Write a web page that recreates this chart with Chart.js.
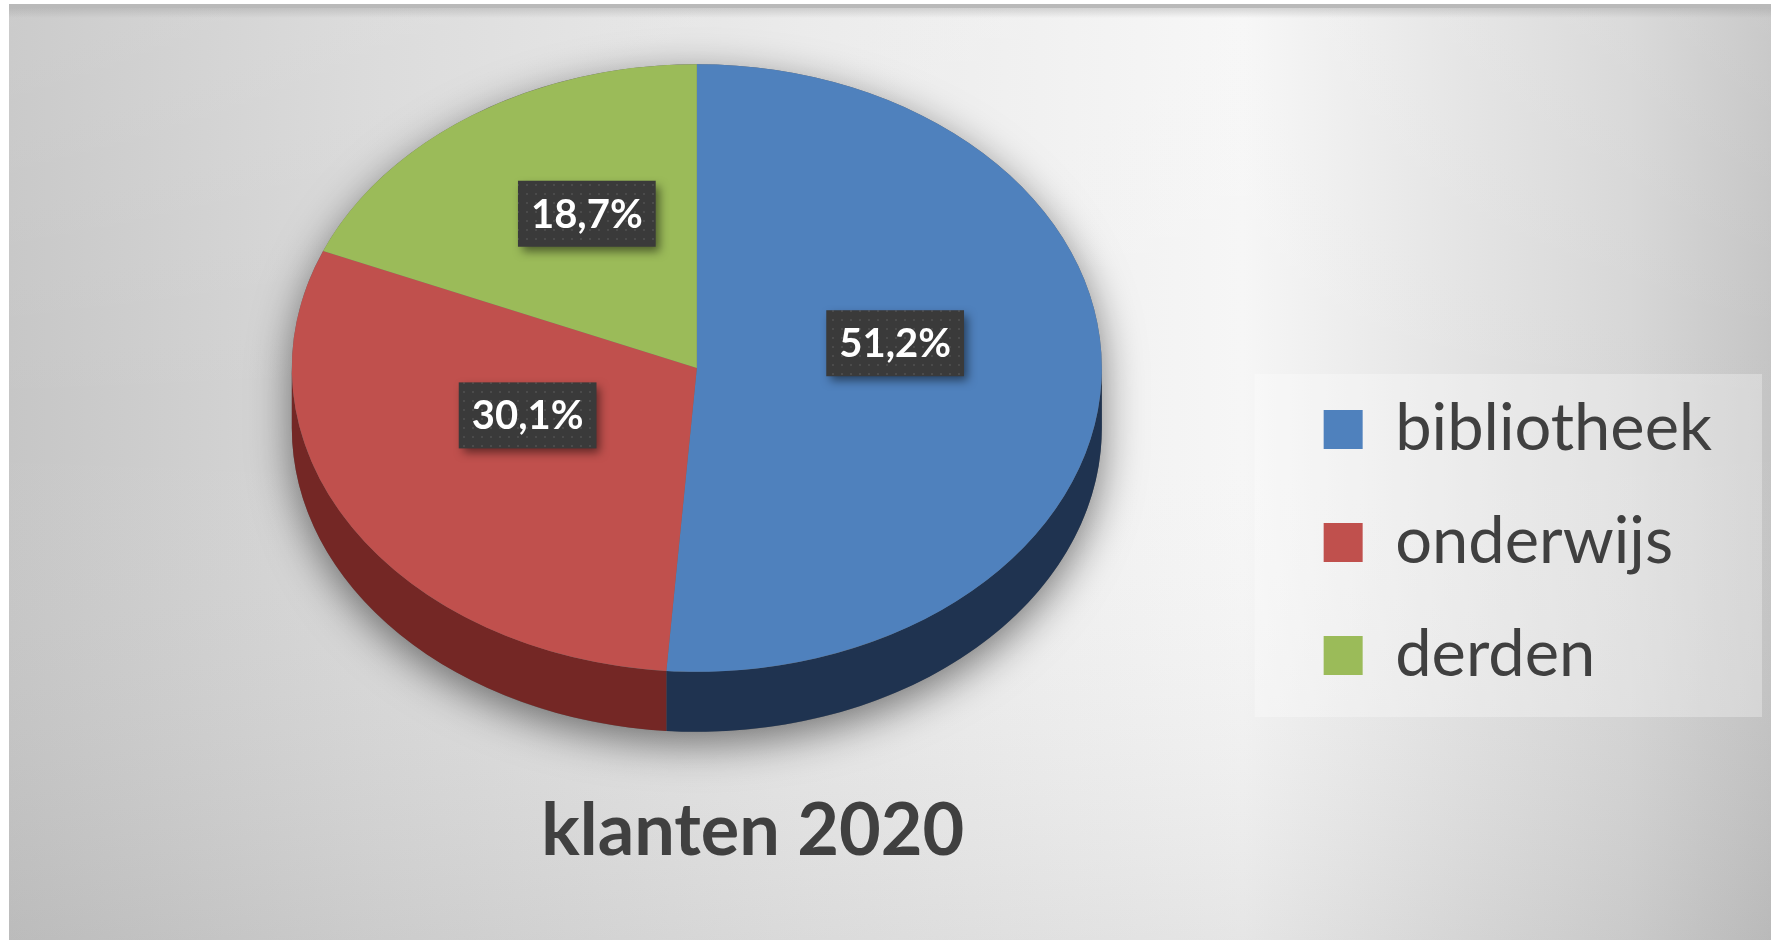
<!DOCTYPE html>
<html lang="nl">
<head>
<meta charset="utf-8">
<title>klanten 2020</title>
<script src="https://cdn.jsdelivr.net/npm/chart.js@4/dist/chart.umd.min.js"></script>
<style>
  html, body { margin: 0; padding: 0; background: #ffffff; }
  #c { display: block; }
</style>
</head>
<body>
<canvas id="c" width="1771" height="940"></canvas>
<script>
// Customer groups and their share (percent) for 2020
const categories = ['bibliotheek', 'onderwijs', 'derden'];
const shares = [51.2, 30.1, 18.7];
const chartTitle = 'klanten 2020';

// Slice colours: top faces and the darker side walls
const topColors = ['#4f81bd', '#c0504d', '#9bbb59'];
const sideColors = ['#1f3350', '#742725', '#5a6e32'];

const FONT = 'Lato, Carlito, "Open Sans", sans-serif';
const TEXT_COLOR = '#404040';

function formatPercent(v) {
  return v.toFixed(1).replace('.', ',') + '%';
}

// Soft grey backdrop with a thin top rule, plus the pale panel behind the legend
const backdrop = {
  id: 'backdrop',
  afterLayout(chart, args, opts) {
    // nudge the title a little to the right of the pie's centre line
    const t = chart.titleBlock;
    if (t) { t.left += opts.titleShift; t.right += opts.titleShift; }
  },
  beforeDraw(chart) {
    const {ctx, width, height} = chart;
    ctx.save();
    ctx.fillStyle = '#ffffff';
    ctx.fillRect(0, 0, width, height);

    const x0 = 9, y0 = 4;
    const g = ctx.createLinearGradient(x0, 0, width, 0);
    g.addColorStop(0.00, '#c6c6c6');
    g.addColorStop(0.20, '#d8d8d8');
    g.addColorStop(0.45, '#e9e9e9');
    g.addColorStop(0.70, '#f6f6f6');
    g.addColorStop(0.82, '#e4e4e4');
    g.addColorStop(0.92, '#d6d6d6');
    g.addColorStop(1.00, '#c4c4c4');
    ctx.fillStyle = g;
    ctx.fillRect(x0, y0, width - x0, height - y0);

    const v = ctx.createLinearGradient(0, y0, 0, height);
    v.addColorStop(0, 'rgba(255,255,255,0.10)');
    v.addColorStop(0.45, 'rgba(255,255,255,0)');
    v.addColorStop(1, 'rgba(110,110,110,0.12)');
    ctx.fillStyle = v;
    ctx.fillRect(x0, y0, width - x0, height - y0);

    ctx.fillStyle = '#b9b9b9';
    ctx.fillRect(x0, y0, width - x0, 4);
    const s = ctx.createLinearGradient(0, y0 + 4, 0, y0 + 14);
    s.addColorStop(0, 'rgba(150,150,150,0.35)');
    s.addColorStop(1, 'rgba(150,150,150,0)');
    ctx.fillStyle = s;
    ctx.fillRect(x0, y0 + 4, width - x0, 10);

    // panel behind the legend entries
    const lg = chart.legend;
    if (lg && lg.options.display) {
      const lab = lg.options.labels;
      const pad = lab.padding;
      const fs = lab.font.size;
      const colH = lg.columnSizes && lg.columnSizes.length ? lg.columnSizes[0].height : 0;
      ctx.font = `${fs}px ${FONT}`;
      let tw = 0;
      categories.forEach(c => { tw = Math.max(tw, ctx.measureText(c).width); });
      const left = lg.left + pad - 69;
      const right = lg.left + pad + lab.boxWidth + fs / 2 + tw + 50;
      const top = lg.bottom - colH - 23;
      const bottom = lg.bottom - 19;
      ctx.fillStyle = 'rgba(255,255,255,0.30)';
      ctx.fillRect(left, top, right - left, bottom - top);
    }
    ctx.restore();
  }
};

// Tilted pie: drop shadow, extruded side walls, squashed top faces and value badges
const pie3d = {
  id: 'pie3d',
  beforeDatasetsDraw(chart, args, opts) {
    const meta = chart.getDatasetMeta(0);
    if (!meta.data.length) return;
    const ctx = chart.ctx;
    const {x: cx, y: cy, outerRadius: R} = meta.data[0];
    const ry = R * opts.tilt;
    const d = opts.depth;

    // silhouette casting the soft shadow
    ctx.save();
    ctx.shadowColor = 'rgba(0,0,0,0.5)';
    ctx.shadowBlur = 42;
    ctx.shadowOffsetY = 12;
    ctx.beginPath();
    ctx.ellipse(cx, cy, R, ry, 0, 0, Math.PI, true);
    ctx.lineTo(cx - R, cy + d);
    ctx.ellipse(cx, cy + d, R, ry, 0, Math.PI, 0, true);
    ctx.closePath();
    ctx.fillStyle = '#6a6a6a';
    ctx.fill();
    ctx.restore();

    // visible (front) part of each slice's outer wall
    meta.data.forEach((arc, i) => {
      const s = arc.startAngle, e = arc.endAngle;
      [0, 2 * Math.PI].forEach(k => {
        const a = Math.max(s, k), b = Math.min(e, k + Math.PI);
        if (b <= a) return;
        ctx.beginPath();
        ctx.ellipse(cx, cy, R, ry, 0, a, b, false);
        ctx.lineTo(cx + R * Math.cos(b), cy + ry * Math.sin(b) + d);
        ctx.ellipse(cx, cy + d, R, ry, 0, b, a, true);
        ctx.closePath();
        ctx.fillStyle = sideColors[i];
        ctx.fill();
      });
    });

    // the library draws the top faces through this tilt
    ctx.save();
    ctx.translate(cx, cy);
    ctx.scale(1, opts.tilt);
    ctx.translate(-cx, -cy);
  },
  afterDatasetsDraw(chart, args, opts) {
    const meta = chart.getDatasetMeta(0);
    if (!meta.data.length) return;
    const ctx = chart.ctx;
    ctx.restore();

    const total = shares.reduce((a, b) => a + b, 0);
    const dots = document.createElement('canvas');
    dots.width = 9; dots.height = 9;
    const dctx = dots.getContext('2d');
    dctx.fillStyle = 'rgba(255,255,255,0.09)';
    dctx.fillRect(4, 4, 2, 2);
    const pattern = ctx.createPattern(dots, 'repeat');

    meta.data.forEach((arc, i) => {
      const mid = (arc.startAngle + arc.endAngle) / 2;
      const r = arc.outerRadius * opts.labelRadius;
      const x = arc.x + r * Math.cos(mid);
      const y = arc.y + opts.tilt * r * Math.sin(mid) + opts.labelLift * arc.outerRadius;
      const text = formatPercent(shares[i] / total * 100);

      ctx.save();
      ctx.font = `bold ${opts.labelSize}px ${FONT}`;
      const w = ctx.measureText(text).width + 26;
      const h = 66;
      const bx = x - w / 2, by = y - h / 2;
      ctx.shadowColor = 'rgba(0,0,0,0.5)';
      ctx.shadowBlur = 9;
      ctx.shadowOffsetX = 4;
      ctx.shadowOffsetY = 5;
      ctx.fillStyle = '#3a3a3a';
      ctx.fillRect(bx, by, w, h);
      ctx.shadowColor = 'transparent';
      ctx.fillStyle = pattern;
      ctx.fillRect(bx, by, w, h);
      ctx.fillStyle = '#ffffff';
      ctx.textAlign = 'center';
      ctx.textBaseline = 'middle';
      ctx.fillText(text, x, y + 1);
      ctx.restore();
    });
  }
};

function build() {
  new Chart(document.getElementById('c'), {
    type: 'pie',
    data: {
      labels: categories,
      datasets: [{
        data: shares,
        backgroundColor: topColors,
        borderWidth: 0,
        radius: 405,
        clip: false
      }]
    },
    options: {
      responsive: false,
      animation: false,
      events: [],
      layout: { padding: { left: 118, right: 49, top: 0, bottom: 0 } },
      plugins: {
        legend: {
          position: 'right',
          align: 'end',
          fullSize: false,
          labels: {
            boxWidth: 39,
            boxHeight: 39,
            padding: 48,
            color: TEXT_COLOR,
            font: { family: FONT, size: 65 }
          }
        },
        title: {
          display: true,
          text: chartTitle,
          position: 'bottom',
          fullSize: false,
          color: TEXT_COLOR,
          font: { family: FONT, size: 72, weight: 'bold', lineHeight: 1.25 },
          padding: { top: 51, bottom: 63 }
        },
        tooltip: { enabled: false },
        backdrop: { titleShift: 56 },
        pie3d: { tilt: 0.75, depth: 60, labelRadius: 0.49, labelLift: -0.075, labelSize: 40 }
      }
    },
    plugins: [backdrop, pie3d]
  });
}

if (document.fonts && document.fonts.load) {
  Promise.all([
    document.fonts.load(`bold 40px ${FONT}`),
    document.fonts.load(`65px ${FONT}`)
  ]).then(build, build);
} else {
  build();
}
</script>
</body>
</html>
